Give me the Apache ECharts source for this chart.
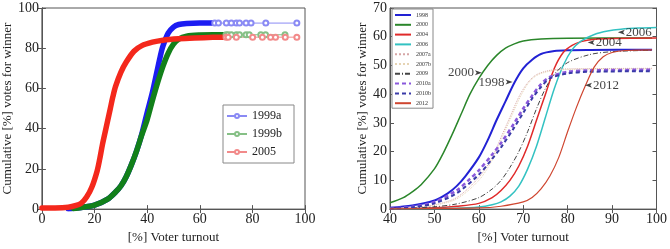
<!DOCTYPE html>
<html>
<head>
<meta charset="utf-8">
<script src="https://cdn.jsdelivr.net/npm/echarts@6/dist/echarts.min.js"></script>
<style>
  html, body { margin: 0; padding: 0; background: #fff; }
  #chart { width: 670px; height: 249px; }
</style>
</head>
<body>
<div id="chart"></div>
<script>
// left panel: dense (thick) part and sparse marker tail of each curve
const xs1999a = [10, 15, 20, 25, 28, 30, 32, 34, 36, 38, 40, 42, 44, 45, 46, 48, 50, 52, 55, 60, 65.7];
const ys1999a = [0.2, 0.8, 2, 5, 8.5, 11.5, 16, 22, 29, 37.5, 48, 58, 70, 76, 81, 87.5, 90.5, 91.8, 92.3, 92.5, 92.5];
const tx1999a = [65.7, 67.1, 70.1, 72, 73.9, 75.1, 77.6, 79.5, 85.1, 96.9];
const ty1999a = [92.5, 92.5, 92.5, 92.5, 92.5, 92.5, 92.5, 92.5, 92.5, 92.5];

const xs1999b = [12, 15, 20, 25, 28, 30, 32, 34, 36, 38, 40, 42, 44, 46, 48, 50, 52, 55, 60, 65, 70];
const ys1999b = [0.3, 0.8, 2, 5, 8.5, 11.5, 16, 22, 29, 37, 44.5, 54, 63, 71, 77.5, 82, 84.5, 86, 86.6, 86.7, 86.7];
const tx1999b = [70, 70.8, 72, 73.9, 75.1, 77.6, 78.8, 83.2, 85, 92.4];
const ty1999b = [86.7, 86.7, 86.7, 86.7, 86.7, 86.7, 86.7, 86.7, 86.7, 86.7];

const xs2005 = [0, 5, 10, 13, 15, 17, 19, 21, 22, 23, 24, 25, 26, 27, 28, 30, 32, 35, 38, 42, 46, 52, 58, 65, 70];
const ys2005 = [0.6, 0.6, 0.9, 1.8, 3, 6, 11, 19, 25, 32, 38, 44, 50, 56, 61, 68, 73, 78.5, 81.3, 83, 84, 84.7, 85.1, 85.4, 85.5];
const tx2005 = [70, 70.8, 73.9, 80.1, 83.8, 86.9, 88.8, 92.5, 96.9];
const ty2005 = [85.5, 85.5, 85.5, 85.5, 85.5, 85.5, 85.5, 85.5, 85.5];

// right panel
const rNames = ['1998', '2000', '2004', '2006', '2007a', '2007b', '2009', '2010a', '2010b', '2012'];
const rX = {
  '1998':  [40, 45, 50, 53, 55, 57, 60, 62, 64, 66, 68, 70, 72, 74, 77, 80, 85, 99],
  '2000':  [40, 43, 45, 47, 50, 52, 54, 56, 58, 60, 62, 64, 66, 68, 70, 74, 80, 99],
  '2004':  [40, 50, 55, 60, 63, 65, 67, 69, 71, 73, 75, 77, 79, 81, 83, 86, 90, 100],
  '2006':  [40, 55, 60, 63, 65, 67, 69, 71, 73, 75, 77, 79, 81, 83, 86, 89, 92, 96, 100],
  '2007a': [45, 50, 55, 60, 63, 65, 67, 69, 71, 73, 76, 80, 99],
  '2007b': [45, 50, 55, 60, 63, 65, 67, 69, 71, 73, 76, 80, 99],
  '2009':  [45, 50, 55, 60, 63, 65, 67, 69, 71, 73, 75, 77, 80, 85, 90, 99],
  '2010a': [40, 45, 50, 55, 58, 60, 63, 65, 68, 70, 72, 74, 76, 80, 85, 99],
  '2010b': [40, 45, 50, 55, 60, 63, 65, 68, 70, 72, 74, 76, 80, 85, 99],
  '2012':  [40, 60, 65, 70, 72, 74, 76, 78, 80, 82, 84, 86, 88, 90, 93, 99]
};
const rY = {
  '1998':  [0.5, 1.3, 3, 5.5, 8, 11.5, 18, 24, 31, 37.5, 44, 49, 52, 54, 55, 55.3, 55.4, 55.5],
  '2000':  [2.2, 4, 6, 8.5, 14, 19.5, 26, 33, 40, 45.5, 50, 53.5, 56, 57.5, 58.5, 59.2, 59.5, 59.6],
  '2004':  [0.2, 0.5, 1, 2, 4, 6.5, 10, 15, 22, 31, 40, 49, 54.5, 57, 58.3, 59.1, 59.4, 59.6],
  '2006':  [0.1, 0.3, 0.7, 1.5, 2.5, 4.5, 8, 14, 22, 32, 42, 50, 55.5, 58.5, 60.8, 62, 62.6, 63, 63.2],
  '2007a': [0.5, 1.5, 4, 11, 18, 25, 32, 39, 44, 46.8, 48.3, 48.8, 49],
  '2007b': [0.4, 1.3, 3.5, 10, 17, 24, 31, 38, 43.5, 46.5, 48, 48.6, 48.8],
  '2009':  [0.4, 0.8, 1.8, 4, 7, 10, 14.5, 20, 27, 35, 42, 47, 51, 53.8, 54.8, 55.3],
  '2010a': [0.3, 0.8, 2.5, 6.5, 10.5, 13.5, 19, 23, 30, 35, 39.5, 43.5, 46, 47.8, 48.3, 48.5],
  '2010b': [0.2, 0.6, 2, 5.5, 12, 17.5, 21.5, 28.5, 33.5, 38.5, 42.5, 45.5, 47.2, 47.8, 48],
  '2012':  [0.1, 0.4, 1, 2.5, 4, 7, 11.5, 18, 27, 35.5, 43, 49.5, 53, 54.5, 55.2, 55.4]
};
const rStyle = {
  '1998':  { color: '#2222d4', width: 2, type: 'solid' },
  '2000':  { color: '#2a862a', width: 1.5, type: 'solid' },
  '2004':  { color: '#e02a2a', width: 1.5, type: 'solid' },
  '2006':  { color: '#33c2c2', width: 1.5, type: 'solid' },
  '2007a': { color: '#d6a6a6', width: 1, type: 'dotted' },
  '2007b': { color: '#e6d4b4', width: 1, type: 'dotted' },
  '2009':  { color: '#444444', width: 1, type: [5, 2, 1, 2] },
  '2010a': { color: '#8a58dc', width: 2.5, type: [4, 3] },
  '2010b': { color: '#3a3aa8', width: 2, type: [4, 3] },
  '2012':  { color: '#cf4630', width: 1.2, type: 'solid' }
};

// year annotations with arrows (tip position in data units)
const annText = ['2000', '1998', '2006', '2004', '2012'];
const annX = [60.7, 67.6, 91.3, 84.5, 83.9];
const annY = [47.5, 44.2, 61.6, 58.0, 43.1];
const annSide = ['left', 'left', 'right', 'right', 'right'];

const serif = '"Liberation Serif", "DejaVu Serif", serif';
const zip = (a, b) => a.map((v, i) => [v, b[i]]);

function xAx(grid, min, max, interval, pos) {
  return {
    type: 'value', gridIndex: grid, min, max, interval, position: pos,
    axisLine: { show: true, lineStyle: { color: '#555', width: 1 } },
    axisTick: { show: true, inside: true, length: 4, lineStyle: { color: '#555' } },
    axisLabel: { show: pos === 'bottom', fontFamily: serif, fontSize: 14, color: '#222', margin: 3 },
    splitLine: { show: false },
    name: pos === 'bottom' ? '[%] Voter turnout' : '',
    nameLocation: 'middle', nameGap: 15,
    nameTextStyle: { fontFamily: serif, fontSize: 13, color: '#222' }
  };
}
function yAx(grid, min, max, interval, pos, gap) {
  return {
    type: 'value', gridIndex: grid, min, max, interval, position: pos,
    axisLine: { show: true, lineStyle: { color: '#555', width: 1 } },
    axisTick: { show: true, inside: true, length: 4, lineStyle: { color: '#555' } },
    axisLabel: { show: pos === 'left', fontFamily: serif, fontSize: 14, color: '#222', margin: 3 },
    splitLine: { show: false },
    name: pos === 'left' ? 'Cumulative [%] votes for winner' : '',
    nameLocation: 'middle', nameGap: gap, nameRotate: 90,
    nameTextStyle: { fontFamily: serif, fontSize: 13, color: '#222' }
  };
}

function coreSeries(name, xs, ys, color) {
  return {
    name: name + ' core', type: 'line', xAxisIndex: 0, yAxisIndex: 0,
    data: zip(xs, ys), smooth: 0.3, symbol: 'none', silent: true,
    lineStyle: { color, width: 5.5, cap: 'round' }, itemStyle: { color }
  };
}
function tailSeries(name, xs, ys, color) {
  return {
    name, type: 'line', xAxisIndex: 0, yAxisIndex: 0,
    data: zip(xs, ys), symbol: 'emptyCircle', symbolSize: 5,
    lineStyle: { color, width: 1 }, itemStyle: { color, borderWidth: 1 }
  };
}

const series = [
  coreSeries('1999a', xs1999a, ys1999a, '#1c1cf2'),
  coreSeries('1999b', xs1999b, ys1999b, '#12801a'),
  coreSeries('2005', xs2005, ys2005, '#f4281c'),
  tailSeries('1999a', tx1999a, ty1999a, '#8a8af4'),
  tailSeries('1999b', tx1999b, ty1999b, '#86c086'),
  tailSeries('2005', tx2005, ty2005, '#f28a8a')
];

rNames.forEach(n => {
  const s = rStyle[n];
  series.push({
    name: n, type: 'line', xAxisIndex: 2, yAxisIndex: 2,
    data: zip(rX[n], rY[n]), smooth: 0.3, symbol: 'none',
    lineStyle: { color: s.color, width: s.width, type: s.type },
    itemStyle: { color: s.color }
  });
});

const arrowR = 'path://M0,0 L10,5 L0,10 L2.5,5 Z';
const arrowL = 'path://M10,0 L0,5 L10,10 L7.5,5 Z';
series.push({
  name: 'annotations', type: 'scatter', xAxisIndex: 2, yAxisIndex: 2, silent: true, clip: false,
  data: annText.map((t, i) => ({
    value: [annX[i], annY[i]],
    symbol: annSide[i] === 'left' ? arrowR : arrowL,
    symbolOffset: annSide[i] === 'left' ? [-3.5, 0] : [3.5, 0],
    label: { position: annSide[i], formatter: t }
  })),
  symbolSize: [7, 5],
  itemStyle: { color: '#111' },
  label: { show: true, distance: 1, fontFamily: serif, fontSize: 13, color: '#111' },
  labelLayout: { hideOverlap: false },
  z: 5
});

const option = {
  backgroundColor: '#fff',
  animation: false,
  grid: [
    { left: 37, top: 8, width: 268, height: 211, show: true, borderColor: '#555', borderWidth: 1 },
    { left: 390, top: 8, width: 267, height: 211, show: true, borderColor: '#555', borderWidth: 1 }
  ],
  xAxis: [
    xAx(0, 0, 100, 20, 'bottom'), xAx(0, 0, 100, 20, 'top'),
    xAx(1, 40, 100, 10, 'bottom'), xAx(1, 40, 100, 10, 'top')
  ],
  yAxis: [
    yAx(0, 0, 100, 20, 'left', 19), yAx(0, 0, 100, 20, 'right', 0),
    yAx(1, 0, 70, 10, 'left', 17), yAx(1, 0, 70, 10, 'right', 0)
  ],
  legend: [
    {
      data: ['1999a', '1999b', '2005'], orient: 'vertical', left: 223, top: 105,
      padding: [5, 12, 5, 3], itemGap: 6, itemWidth: 20, itemHeight: 5, itemTextGap: 3,
      borderColor: '#888', borderWidth: 1, backgroundColor: '#fff',
      textStyle: { fontFamily: serif, fontSize: 12, color: '#222' }
    },
    {
      data: rNames, orient: 'vertical', left: 392, top: 9,
      padding: [3, 2, 2, 2], itemGap: 3.8, itemWidth: 16, itemHeight: 6, itemTextGap: 2,
      itemStyle: { opacity: 0 },
      borderColor: '#888', borderWidth: 1, backgroundColor: '#fff',
      textStyle: { fontFamily: serif, fontSize: 6, color: '#333' }
    }
  ],
  series
};

const chart = echarts.init(document.getElementById('chart'));
chart.setOption(option);
</script>
</body>
</html>
